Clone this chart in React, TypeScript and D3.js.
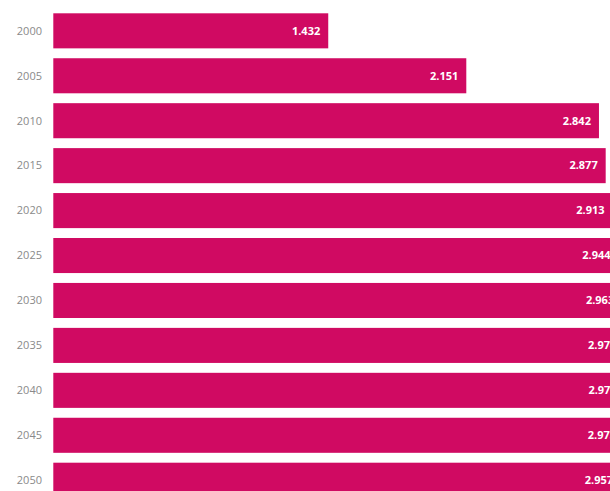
import { useEffect, useRef } from "react";
import * as d3 from "d3";

// years on the category axis, values shown in the bars
const years = ["2000", "2005", "2010", "2015", "2020", "2025", "2030", "2035", "2040", "2045", "2050"];
const values = [1.432, 2.151, 2.842, 2.877, 2.913, 2.944, 2.963, 2.974, 2.976, 2.973, 2.957];

const W = 610;
const H = 491;

export default function App() {
  const ref = useRef<SVGSVGElement | null>(null);

  useEffect(() => {
    if (!ref.current) return;
    const svg = d3.select(ref.current);
    svg.selectAll("*").remove();

    const left = 53.3;
    const x = d3.scaleLinear().domain([0, 1]).range([left, left + 192]);
    // chart runs past the bottom edge, last bar is cut off
    const y = d3.scaleBand().domain(years).range([13.3, 13.3 + 44.94 * 10.78]).paddingInner(0.22).paddingOuter(0);

    const rows = years.map((yr, i) => ({ yr, v: values[i] }));

    svg
      .selectAll("rect.bar")
      .data(rows)
      .join("rect")
      .attr("class", "bar")
      .attr("x", x(0))
      .attr("y", (d) => y(d.yr) ?? 0)
      .attr("width", (d) => x(d.v) - x(0))
      .attr("height", y.bandwidth())
      .attr("fill", "#d00a62");

    svg
      .selectAll("text.val")
      .data(rows)
      .join("text")
      .attr("class", "val")
      .attr("x", (d) => x(d.v) - 8)
      .attr("y", (d) => (y(d.yr) ?? 0) + y.bandwidth() / 2)
      .attr("dy", "0.35em")
      .attr("text-anchor", "end")
      .attr("fill", "#fff")
      .attr("font-weight", "bold")
      .attr("font-size", 11)
      .text((d) => d.v.toFixed(3));

    svg
      .selectAll("text.yr")
      .data(rows)
      .join("text")
      .attr("class", "yr")
      .attr("x", 42)
      .attr("y", (d) => (y(d.yr) ?? 0) + y.bandwidth() / 2)
      .attr("dy", "0.35em")
      .attr("text-anchor", "end")
      .attr("fill", "#8a8a8a")
      .attr("font-size", 11)
      .text((d) => d.yr);
  }, []);

  return (
    <svg
      ref={ref}
      width={W}
      height={H}
      style={{ position: "absolute", left: 0, top: 0, fontFamily: "'Open Sans', sans-serif", background: "#fff" }}
    />
  );
}
